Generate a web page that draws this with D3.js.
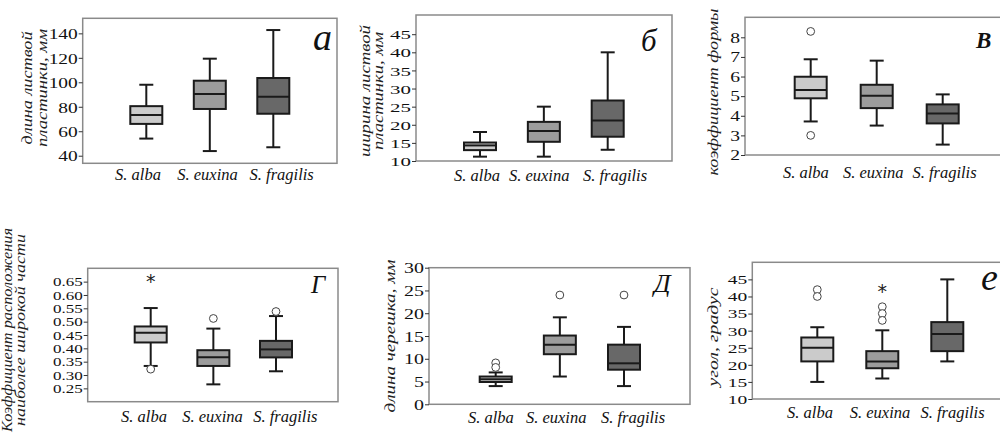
<!DOCTYPE html>
<html><head><meta charset="utf-8">
<script src="https://cdn.jsdelivr.net/npm/d3@7"></script>
<style>
html,body{margin:0;padding:0;background:#fff;}
</style></head>
<body>
<svg id="chart" width="1000" height="437"></svg>
<script>
// ---------- DATA ----------
const species = ["S. alba", "S. euxina", "S. fragilis"];
// summaries per species: [lower whisker, Q1, median, Q3, upper whisker]
const bladeLength = [[54, 66, 73.3, 80.5, 98], [43.8, 78.2, 90.4, 101.3, 119.3], [46.9, 74.3, 88.2, 103.5, 142.7]];
const bladeLengthTicks = [40, 60, 80, 100, 120, 140];
const bladeWidth = [[11.2, 13.0, 14.3, 15.1, 18], [11.2, 15.3, 18.3, 20.8, 25], [13.1, 16.7, 21.2, 26.7, 40]];
const bladeWidthTicks = [10, 15, 20, 25, 30, 35, 40, 45];
const shapeIndex = [[3.71, 4.89, 5.31, 5.99, 6.88], [3.5, 4.39, 5.02, 5.58, 6.81], [2.53, 3.61, 4.12, 4.58, 5.09]];
const shapeIndexOutliers = [[8.3, 3.0], [], []];
const shapeIndexTicks = [2, 3, 4, 5, 6, 7, 8];
const widestPart = [[0.334, 0.422, 0.458, 0.482, 0.551], [0.265, 0.334, 0.367, 0.393, 0.474], [0.314, 0.366, 0.396, 0.428, 0.521]];
const widestPartOutliers = [[0.322], [0.512], [0.538]];
const widestPartExtremes = [[0.671], [], []];
const widestPartTicks = [0.25, 0.30, 0.35, 0.40, 0.45, 0.50, 0.55, 0.60, 0.65];
const petiole = [[4.0, 4.9, 5.5, 6.1, 7.0], [6.1, 11.0, 13.1, 15.1, 19.1], [4.0, 7.6, 9.0, 13.1, 17.0]];
const petioleOutliers = [[9.1, 8.1], [24], [24]];
const petioleTicks = [0, 5, 10, 15, 20, 25, 30];
const angle = [[15, 21, 25, 28, 31], [16, 19, 21, 24, 30.1], [21, 24, 29, 32.5, 45]];
const angleOutliers = [[42, 40], [37, 35, 33], []];
const angleExtremes = [[], [43], []];
const angleTicks = [10, 15, 20, 25, 30, 35, 40, 45];

const titles = {
  a: ["длина листвой", "пластинки, мм"],
  b: ["ширина листвой", "пластинки, мм"],
  v: ["коэффициент формы"],
  g: ["Коэффициент расположения", "наиболее широкой части"],
  d: ["длина черешка, мм"],
  e: ["угол, градус"]
};
const letters = {a: "a", b: "б", v: "В", g: "Г", d: "Д", e: "е"};

// ---------- LAYOUT ----------
const FONT = "'Liberation Serif', 'Times New Roman', serif";
const fills = ["#cbcbcb", "#9c9c9c", "#686868"];
const panels = [
  {key: "a", stats: bladeLength, ticks: bladeLengthTicks, domain: [33.8, 152.3], fmt: d3.format("d"),
   frame: [82.7, 18.3, 337, 163.3], boxRange: [146.3, 273.3], labelPos: [138, 207.5, 281.7], labelY: 180,
   letterPos: [313, 50], letterSize: 38, letterWeight: "normal",
   titleX: [26.7, 41.7], titleY: 88, titleLen: [113, 118], tickFont: 15.5, tickSx: 1.25},
  {key: "b", stats: bladeWidth, ticks: bladeWidthTicks, domain: [10, 50.3], fmt: d3.format("d"),
   frame: [416, 15, 672, 161], boxRange: [480, 607.7], labelPos: [477, 539.2, 615], labelY: 181,
   letterPos: [641, 51], letterSize: 31, letterWeight: "normal",
   titleX: [365, 377.5], titleY: 91, titleLen: [132, 118], tickFont: 13.5, tickSx: 1.55},
  {key: "v", stats: shapeIndex, outliers: shapeIndexOutliers, ticks: shapeIndexTicks, domain: [2, 9.02], fmt: d3.format("d"),
   frame: [745, 17.3, 1010, 155], boxRange: [810.7, 942.7], labelPos: [805.8, 873.3, 944.5], labelY: 178,
   letterPos: [976, 48], letterSize: 23, letterWeight: "bold",
   titleX: [713], titleY: 92, titleLen: [167], tickFont: 14, tickSx: 1.4},
  {key: "g", stats: widestPart, outliers: widestPartOutliers, extremes: widestPartExtremes, ticks: widestPartTicks, domain: [0.2, 0.7], fmt: d3.format(".2f"),
   frame: [87.7, 268.3, 338, 401.7], boxRange: [150.7, 276], labelPos: [144, 212.5, 285.3], labelY: 421.7,
   letterPos: [311, 293], letterSize: 25, letterWeight: "normal",
   titleX: [7, 20], titleY: 330, titleLen: [204, 192], tickFont: 12.6, tickSx: 1.35},
  {key: "d", stats: petiole, outliers: petioleOutliers, ticks: petioleTicks, domain: [0, 30], fmt: d3.format("d"),
   frame: [429, 267.7, 690, 404.3], boxRange: [495.7, 624], labelPos: [490.8, 556.2, 633], labelY: 423.3,
   letterPos: [654, 292], letterSize: 26, letterWeight: "normal",
   titleX: [390], titleY: 336, titleLen: [153], tickFont: 15, tickSx: 1.33},
  {key: "e", stats: angle, outliers: angleOutliers, extremes: angleExtremes, ticks: angleTicks, domain: [10, 50], fmt: d3.format("d"),
   frame: [752.3, 262.3, 1010, 399], boxRange: [817.3, 947.3], labelPos: [810, 880, 952.5], labelY: 418.3,
   letterPos: [981, 290], letterSize: 38, letterWeight: "normal",
   titleX: [713], titleY: 337, titleLen: [99], tickFont: 13, tickSx: 1.5}
];

const svg = d3.select("#chart");
const boxW = 32, capW = 14;

panels.forEach(p => {
  const [fl, ft, fr, fb] = p.frame;
  const g = svg.append("g").attr("class", "panel-" + p.key);
  const y = d3.scaleLinear().domain(p.domain).range([fb, ft]);
  const x = d3.scalePoint().domain(species).range(p.boxRange);
  const xl = d3.scaleOrdinal().domain(species).range(p.labelPos);

  // frame
  g.append("rect").attr("x", fl).attr("y", ft).attr("width", fr - fl).attr("height", fb - ft)
    .attr("fill", "none").attr("stroke", "#8a8a8a").attr("stroke-width", 1.5);

  // y axis
  const ax = g.append("g").attr("transform", `translate(${fl},0)`)
    .call(d3.axisLeft(y).tickValues(p.ticks).tickFormat(p.fmt).tickSize(4).tickSizeOuter(0).tickPadding(1));
  ax.select(".domain").remove();
  ax.selectAll(".tick line").attr("stroke", "#333").attr("stroke-width", 1);
  ax.selectAll(".tick text")
    .attr("x", null)
    .attr("transform", `translate(-5,0) scale(${p.tickSx},1)`)
    .style("font-family", FONT)
    .style("font-size", p.tickFont + "px")
    .attr("fill", "#111")
    .attr("dy", "0.34em");

  // boxes
  species.forEach((s, i) => {
    const [lo, q1, med, q3, hi] = p.stats[i];
    const cx = x(s);
    const bg = g.append("g");
    bg.append("line").attr("x1", cx).attr("x2", cx).attr("y1", y(hi)).attr("y2", y(q3))
      .attr("stroke", "#1a1a1a").attr("stroke-width", 2);
    bg.append("line").attr("x1", cx).attr("x2", cx).attr("y1", y(q1)).attr("y2", y(lo))
      .attr("stroke", "#1a1a1a").attr("stroke-width", 2);
    [hi, lo].forEach(v => bg.append("line").attr("x1", cx - capW / 2).attr("x2", cx + capW / 2)
      .attr("y1", y(v)).attr("y2", y(v)).attr("stroke", "#1a1a1a").attr("stroke-width", 2));
    bg.append("rect").attr("x", cx - boxW / 2).attr("y", y(q3)).attr("width", boxW).attr("height", y(q1) - y(q3))
      .attr("fill", fills[i]).attr("stroke", "#1a1a1a").attr("stroke-width", 2);
    bg.append("line").attr("x1", cx - boxW / 2).attr("x2", cx + boxW / 2).attr("y1", y(med)).attr("y2", y(med))
      .attr("stroke", "#1a1a1a").attr("stroke-width", 2);
    if (p.outliers) p.outliers[i].forEach(v => bg.append("circle").attr("cx", cx).attr("cy", y(v)).attr("r", 3.9)
      .attr("fill", "#fff").attr("stroke", "#444").attr("stroke-width", 1));
    if (p.extremes) p.extremes[i].forEach(v => bg.append("text").attr("x", cx).attr("y", y(v))
      .attr("dy", "0.62em").attr("text-anchor", "middle").attr("fill", "#222")
      .style("font-family", "'DejaVu Sans', sans-serif").style("font-size", "19px").text("*"));
  });

  // category labels
  g.selectAll(".cat").data(species).enter().append("text")
    .attr("x", d => xl(d)).attr("y", p.labelY).attr("text-anchor", "middle")
    .style("font-family", FONT).style("font-style", "italic").style("font-size", "16.5px")
    .attr("fill", "#111").text(d => d);

  // panel letter
  g.append("text").attr("x", p.letterPos[0]).attr("y", p.letterPos[1])
    .style("font-family", FONT).style("font-style", "italic").style("font-weight", p.letterWeight)
    .style("font-size", p.letterSize + "px").attr("fill", "#111").text(letters[p.key]);

  // y title
  titles[p.key].forEach((t, j) => {
    g.append("text")
      .attr("transform", `translate(${p.titleX[j] + 5},${p.titleY}) rotate(-90)`)
      .attr("text-anchor", "middle")
      .style("font-family", FONT).style("font-style", "italic").style("font-size", "15px")
      .attr("fill", "#222")
      .attr("textLength", p.titleLen[j]).attr("lengthAdjust", "spacingAndGlyphs")
      .text(t);
  });
});
</script>
</body></html>
